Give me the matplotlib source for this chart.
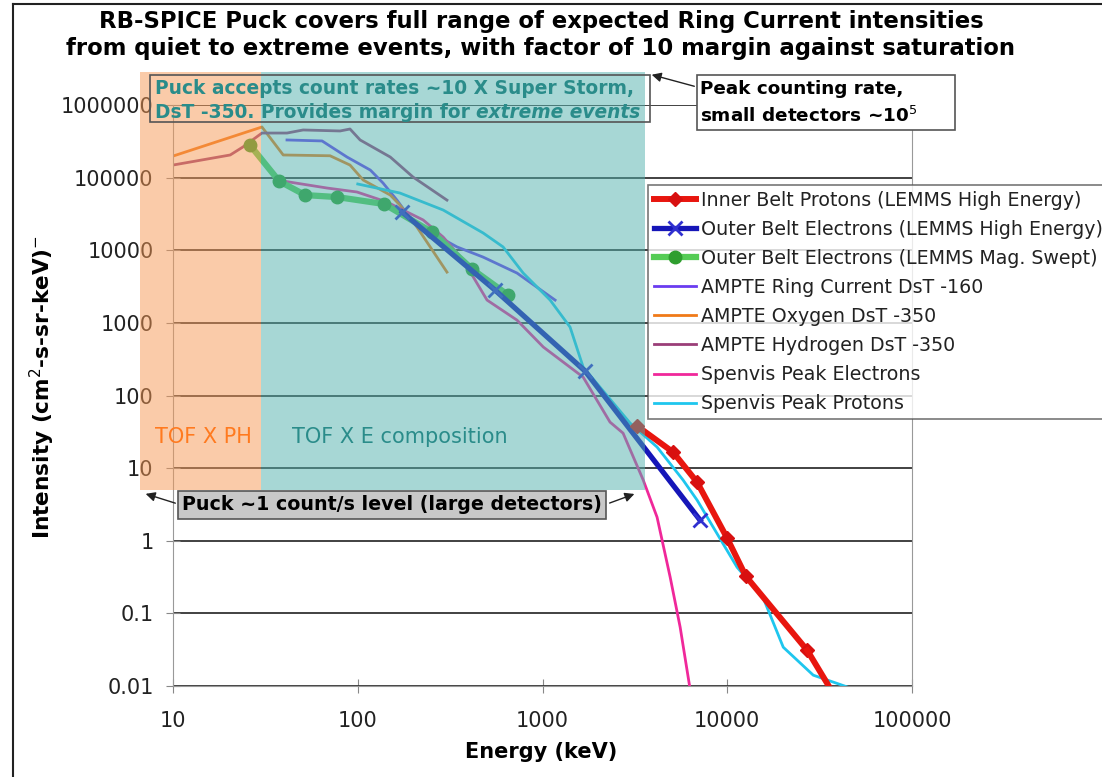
import matplotlib
matplotlib.use("Agg")
import matplotlib.pyplot as plt
from matplotlib.patches import Rectangle

W, H = 1102, 777


def fp(x, y):
    # pixel position (measured from top-left) -> figure fraction
    return x / W, 1 - y / H


# energy (keV) / intensity pairs
inner_e = [3250, 5090, 6870, 9980, 12600, 27100, 40000]
inner_i = [38, 16.6, 6.4, 1.09, 0.325, 0.031, 0.006]

outer_he_e = [174, 553, 1700, 7130]
outer_he_i = [33600, 2830, 217, 1.92]

swept_e = [26.1, 37.5, 51.9, 77.3, 139, 252, 416, 652]
swept_i = [281000, 89700, 57500, 54000, 43300, 17800, 5500, 2410]

ring_e = [41.4, 64.1, 87.5, 117, 137, 163, 192, 246, 345, 477, 728, 1170]
ring_i = [330000, 320000, 192000, 127000, 84300, 49000, 27800, 17800, 11100, 8050, 4850, 2060]

oxy_e = [10, 30.3, 39.5, 70.8, 90.8, 107, 150, 169, 209, 304]
oxy_i = [198000, 498000, 205000, 200000, 149000, 92700, 57500, 42000, 20900, 5000]

hyd_e = [10, 20.4, 23.9, 30.3, 41.4, 50.6, 80.2, 90.8, 103, 150, 199, 304]
hyd_i = [149000, 205000, 264000, 411000, 411000, 453000, 439000, 467000, 330000, 192000, 102000, 49000]

spel_e = [39.5, 68.2, 99, 144, 176, 226, 290, 372, 501, 728, 1010, 1660, 2320, 2730, 3510, 4170, 4910, 5560, 6300]
spel_i = [89700, 71900, 63400, 46100, 35800, 26100, 15200, 7330, 2060, 1090, 465, 179, 43, 30.3, 6.84, 2.11, 0.315, 0.0646, 0.0089]

sppr_e = [100, 169, 290, 477, 612, 786, 1100, 1410, 1660, 2980, 4170, 5770, 6870, 11300, 15600, 20100, 29200, 50500]
sppr_i = [81700, 61400, 35800, 17300, 11100, 4850, 2060, 875, 246, 41.7, 19.5, 6.84, 3.62, 0.432, 0.167, 0.0342, 0.0141, 0.0087]

x_ticks = [10, 100, 1000, 10000, 100000]
x_labels = ["10", "100", "1000", "10000", "100000"]
y_ticks = [0.01, 0.1, 1, 10, 100, 1000, 10000, 100000, 1000000]
y_labels = ["0.01", "0.1", "1", "10", "100", "1000", "10000", "100000", "1000000"]

fig = plt.figure(figsize=(W / 100, H / 100), dpi=100)
ax = fig.add_axes([173 / W, 1 - 686 / H, (912 - 173) / W, (686 - 105) / H])
ax.set_xscale("log")
ax.set_yscale("log")
ax.set_xlim(10, 1e5)
ax.set_ylim(0.01, 1e6)
ax.set_xticks(x_ticks, x_labels)
ax.set_yticks(y_ticks, y_labels)
ax.minorticks_off()
ax.tick_params(direction="inout", length=10, color="#888888", labelsize=15,
               labelcolor="#222222")
ax.tick_params(axis="y", pad=9)
ax.tick_params(axis="x", pad=13)
ax.yaxis.grid(True, color="#333333", lw=1.3)
ax.set_axisbelow("line")
ax.spines["top"].set_visible(False)
for s in ["left", "bottom", "right"]:
    ax.spines[s].set_color("#999999")

# series
ax.plot(inner_e[:-1], inner_i[:-1], color="#E8160F", lw=4.3, marker="D", ms=7,
        mfc="#D81010", mec="#D81010", label="Inner Belt Protons (LEMMS High Energy)", zorder=2.6)
ax.plot(inner_e[-2:], inner_i[-2:], color="#E8160F", lw=4.3, zorder=2.6)
ax.plot(outer_he_e, outer_he_i, color="#1616B8", lw=3.8, marker="x", ms=10, mew=2,
        mec="#3030D0", label="Outer Belt Electrons (LEMMS High Energy)", zorder=2.5)
ax.plot(swept_e, swept_i, color="#55CC55", lw=4.5, marker="o", ms=9,
        mfc="#2E9E2E", mec="#2E9E2E", label="Outer Belt Electrons (LEMMS Mag. Swept)", zorder=2.4)
ax.plot(ring_e, ring_i, color="#6A3CF0", lw=2, label="AMPTE Ring Current DsT -160", zorder=2.2)
ax.plot(oxy_e, oxy_i, color="#F07A18", lw=2, label="AMPTE Oxygen DsT -350", zorder=2.2)
ax.plot(hyd_e, hyd_i, color="#9A3E78", lw=2, label="AMPTE Hydrogen DsT -350", zorder=2.2)
ax.plot(spel_e, spel_i, color="#F0289A", lw=2, label="Spenvis Peak Electrons", zorder=2.3)
ax.plot(sppr_e, sppr_i, color="#1EC6EE", lw=2, label="Spenvis Peak Protons", zorder=2.3)

# translucent overlays for the two instrument modes
ax.add_patch(Rectangle((6.6, 5), 30 - 6.6, 2.85e6 - 5, facecolor="#F79955", alpha=0.5,
                       lw=0, clip_on=False, zorder=3))
ax.add_patch(Rectangle((30, 5), 3600 - 30, 2.85e6 - 5, facecolor="#51B1AD", alpha=0.5,
                       lw=0, clip_on=False, zorder=3))

leg = ax.legend(loc="upper left", bbox_to_anchor=fp(648, 185), bbox_transform=fig.transFigure,
                fontsize=13.7, frameon=True, fancybox=False, edgecolor="#555555",
                handlelength=2.2, handletextpad=0.3, labelspacing=0.53, borderpad=0.3,
                borderaxespad=0)
leg.get_frame().set_linewidth(1.2)
for t in leg.get_texts():
    t.set_color("#222222")
leg.set_zorder(6)

# titles and axis labels
fig.text(*fp(541, 35), "RB-SPICE Puck covers full range of expected Ring Current intensities\n"
         "from quiet to extreme events, with factor of 10 margin against saturation",
         ha="center", va="center", fontsize=16.4, fontweight="bold", linespacing=1.22)
fig.text(*fp(541, 752), "Energy (keV)", ha="center", va="center", fontsize=15, fontweight="bold")
fig.text(*fp(42, 387), r"Intensity (cm$^{2}$-s-sr-keV)$^{-}$", ha="center", va="center",
         rotation=90, fontsize=15.6, fontweight="bold")

# outer frame (top and left visible)
fig.add_artist(plt.Line2D([13 / W, 1], [1 - 4 / H, 1 - 4 / H], color="#222222", lw=1.5))
fig.add_artist(plt.Line2D([13 / W, 13 / W], [0, 1 - 4 / H], color="#222222", lw=1.5))

# mode labels
teal = "#2A8C8A"
fig.text(*fp(155, 437), "TOF X PH", color="#FF7A1F", fontsize=15, va="center", zorder=7)
fig.text(*fp(292, 437), "TOF X E composition", color=teal, fontsize=15, va="center", zorder=7)

# "Puck accepts" box
x0, y0 = fp(150, 122)
x1, y1 = fp(650, 75)
fig.add_artist(Rectangle((x0, y0), x1 - x0, y1 - y0, transform=fig.transFigure,
                         fill=False, ec="#555555", lw=1.2, zorder=7))
fig.text(*fp(155, 88), "Puck accepts count rates ~10 X Super Storm,", color=teal,
         fontsize=13.4, fontweight="bold", va="center", zorder=8)
t2 = fig.text(*fp(155, 112), "DsT -350. Provides margin for ", color=teal,
              fontsize=13.4, fontweight="bold", va="center", zorder=8)
ax.annotate("extreme events", xy=(1, 0), xycoords=t2, color=teal, fontsize=13.4,
            fontweight="bold", style="italic", va="bottom", ha="left", zorder=8,
            annotation_clip=False)

# "Peak counting rate" box
x0, y0 = fp(697, 130)
x1, y1 = fp(955, 75)
fig.add_artist(Rectangle((x0, y0), x1 - x0, y1 - y0, transform=fig.transFigure,
                         fc="white", ec="#555555", lw=1.2, zorder=7))
fig.text(*fp(700, 103), "Peak counting rate,\nsmall detectors ~10$^{5}$", fontsize=13.2,
         fontweight="bold", va="center", linespacing=1.5, zorder=8)
ax.annotate("", xy=fp(649, 74), xycoords="figure fraction", xytext=fp(697, 87),
            textcoords="figure fraction", zorder=8,
            arrowprops=dict(arrowstyle="-|>", color="#222222", lw=1, mutation_scale=14))

# "Puck ~1 count/s" box
fig.text(*fp(392, 505), "Puck ~1 count/s level (large detectors)", fontsize=13.7,
         fontweight="bold", ha="center", va="center", zorder=8,
         bbox=dict(boxstyle="square,pad=0.22", fc="#C8C8C8", ec="#555555", lw=1.2))
for sx, tx in [(178, 143), (607, 637)]:
    ax.annotate("", xy=fp(tx, 493), xycoords="figure fraction", xytext=fp(sx, 504),
                textcoords="figure fraction", zorder=8,
                arrowprops=dict(arrowstyle="-|>", color="#222222", lw=1, mutation_scale=14))

fig.savefig("out.png", dpi=100)
